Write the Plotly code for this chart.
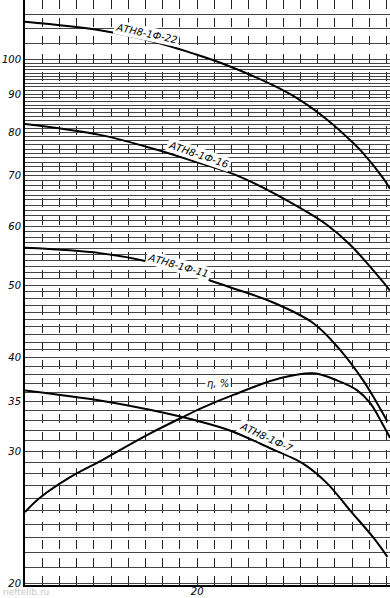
import math
import plotly.graph_objects as go

# ---- data ----
q22 = [0, 8.7, 15.3, 19.5, 23.0, 28.8, 32.0, 35.1, 38.1, 39.3, 41.6, 42.4]
h22 = [112.4, 109.5, 105.5, 102.0, 98.8, 92.5, 88.3, 83.2, 77.5, 75.0, 69.5, 67.3]

q16 = [0, 8.7, 14.2, 20.3, 25.0, 32.0, 35.1, 37.8, 41.3, 42.4]
h16 = [82.1, 79.4, 76.5, 72.8, 69.8, 63.4, 60.2, 56.6, 51.0, 49.2]

q11 = [0, 8.7, 14.5, 20.3, 23.8, 28.5, 33.5, 36.6, 39.3, 40.9, 42.1]
h11 = [56.1, 55.2, 53.7, 51.3, 49.7, 47.6, 44.5, 41.0, 37.3, 34.8, 32.9]

q7 = [0, 8.7, 14.5, 20.3, 23.8, 28.5, 32.3, 35.1, 37.8, 40.5, 42.1]
h7 = [36.2, 35.1, 34.1, 32.9, 32.0, 30.3, 28.9, 27.2, 25.0, 23.0, 21.7]

q_eta = [0, 1.7, 5.2, 8.7, 10.5, 14.5, 18.0, 20.3, 24.2, 29.7, 33.5, 36.3, 38.6, 40.1, 41.5, 42.4]
eta = [24.9, 26.0, 27.7, 29.1, 29.9, 31.7, 33.2, 34.2, 35.7, 37.6, 38.15, 37.3, 36.2, 34.8, 32.7, 31.3]

y_labels = {100: "100", 90: "90", 80: "80", 70: "70", 60: "60", 50: "50",
            40: "40", 35: "35", 30: "30", 20: "20"}
x_labels = {20: "20"}

curve_names = ["АТН8-1Ф-22", "АТН8-1Ф-16", "АТН8-1Ф-11", "АТН8-1Ф-7"]

# ---- figure ----
fig = go.Figure()
for q, h in [(q22, h22), (q16, h16), (q11, h11), (q7, h7), (q_eta, eta)]:
    fig.add_trace(go.Scatter(x=q, y=h, mode="lines",
                             line=dict(color="black", width=2, shape="spline", smoothing=1.0),
                             showlegend=False, hoverinfo="skip"))

ytv = list(range(20, 101)) + [105, 110, 115, 120]
ytt = [f"<i>{y_labels[v]}</i>" if v in y_labels else "" for v in ytv]
xtv = list(range(0, 44, 2))
xtt = [f"<i>{x_labels[v]}</i>" if v in x_labels else "" for v in xtv]

fig.update_xaxes(range=[0, 42.4], tickvals=xtv, ticktext=xtt, showgrid=True,
                 gridcolor="#222", gridwidth=1, griddash="dash", zeroline=False,
                 showline=True, linecolor="black", linewidth=2, ticks="", automargin=False,
                 ticklabelstandoff=-4,
                 tickfont=dict(family="DejaVu Sans", size=10, color="black"))
fig.update_yaxes(type="log", range=[math.log10(19.9), math.log10(120.2)],
                 tickvals=ytv, ticktext=ytt, showgrid=True, gridcolor="#444", gridwidth=1,
                 zeroline=False, showline=True, linecolor="black", linewidth=2, ticks="",
                 automargin=False,
                 tickfont=dict(family="DejaVu Sans", size=10, color="black"))

labels = [
    (curve_names[0], 14.1, 2.0348, 12),
    (curve_names[1], 20.1, 1.873, 19),
    (curve_names[2], 17.8, 1.726, 16),
    (curve_names[3], 28.1, 1.496, 25),
]
for txt, x, ly, ang in labels:
    fig.add_annotation(x=x, y=ly, text=f"<i>{txt}</i>", showarrow=False, textangle=ang,
                       font=dict(family="DejaVu Sans", size=10, color="black"),
                       bgcolor="white")
fig.add_annotation(x=22.4, y=1.568, text="<i>η, %</i>", showarrow=False,
                   font=dict(family="DejaVu Sans", size=10, color="black"), bgcolor="white")
fig.add_annotation(xref="paper", yref="paper", x=-0.063, y=-13 / 585, xanchor="left",
                   yanchor="bottom", text="neftelib.ru", showarrow=False, borderpad=0,
                   font=dict(family="DejaVu Sans", size=9, color="#c8c8c8"))

fig.update_layout(width=390, height=598,
                  margin=dict(l=25, r=0, t=0, b=13, autoexpand=False),
                  paper_bgcolor="white", plot_bgcolor="white")
fig.write_html("out.html", config={"displayModeBar": False},
               post_script="document.body.style.margin='0';document.body.style.overflow='hidden';")
